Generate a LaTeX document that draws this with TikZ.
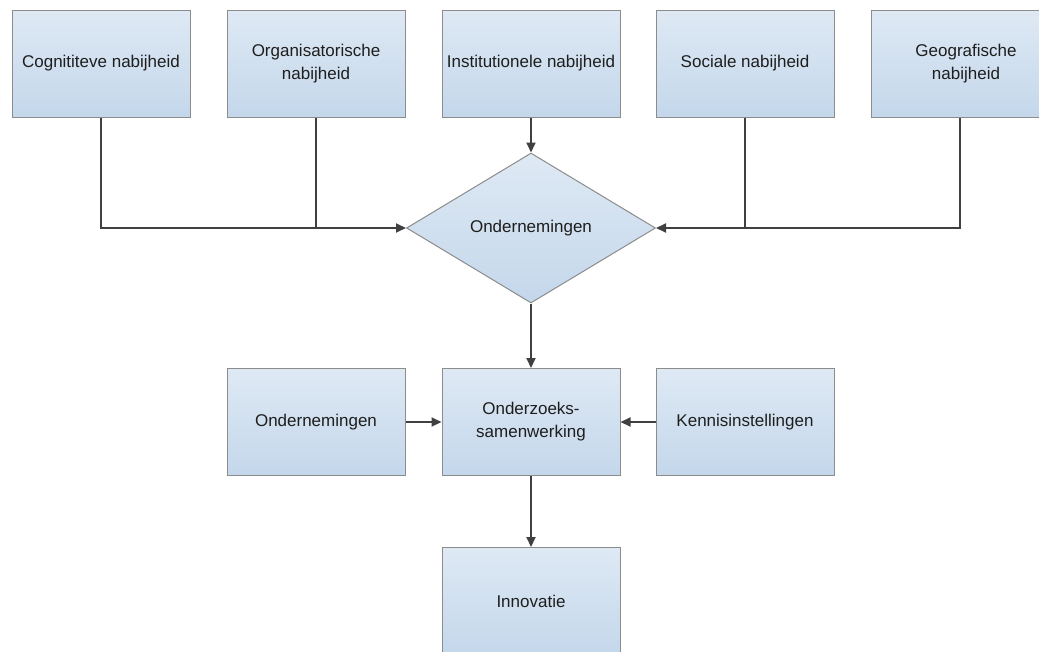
\documentclass[tikz,border=0pt]{standalone}
\usepackage{fontspec}
\setmainfont{Liberation Sans}
\usetikzlibrary{shapes.geometric,arrows.meta}
\definecolor{boxtop}{RGB}{222,233,244}
\definecolor{boxbot}{RGB}{196,215,235}
\definecolor{boxline}{RGB}{140,140,140}
\definecolor{conn}{RGB}{64,64,64}
\definecolor{txt}{RGB}{30,30,30}
\begin{document}
\begin{tikzpicture}[x=1pt,y=-1pt,
  box/.style={draw=boxline,line width=1pt,top color=boxtop,bottom color=boxbot,
    minimum width=178pt,minimum height=107pt,inner sep=0pt,align=center,
    text=txt,font=\fontsize{17}{23}\selectfont},
  dia/.style={diamond,draw=boxline,line width=1pt,top color=boxtop,bottom color=boxbot,
    minimum width=249pt,minimum height=150pt,inner sep=0pt,align=center,
    text=txt,font=\fontsize{17}{23}\selectfont},
  conline/.style={draw=conn,line width=2pt},
  arr/.style={conline,-{Triangle[length=10pt,width=9pt]}}
]
\useasboundingbox (0,0) rectangle (1039,651);
\begin{scope}
\clip (0,0) rectangle (1039,651);
\node[box] (c1) at (101,63.5) {Cognititeve nabijheid};
\node[box] (c2) at (316,63.5) {Organisatorische\\nabijheid};
\node[box] (c3) at (531,63.5) {Institutionele nabijheid};
\node[box] (c4) at (745,63.5) {Sociale nabijheid};
\node[box] (c5) at (960,63.5) {\hspace*{12pt}Geografische\\\hspace*{12pt}nabijheid};
\node[dia] (d) at (531,228) {Ondernemingen};
\node[box] (m1) at (316,422) {Ondernemingen};
\node[box] (m2) at (531,422) {Onderzoeks-\\samenwerking};
\node[box] (m3) at (745,422) {Kennisinstellingen};
\node[box] (inn) at (531,601) {Innovatie};
\end{scope}
\draw[arr] (c1.south) |- (d.west);
\draw[conline] (c2.south) -- (c2.south |- d.west);
\draw[arr] (c3.south) -- (d.north);
\draw[arr] (c5.south) |- (d.east);
\draw[conline] (c4.south) -- (c4.south |- d.east);
\draw[arr] (d.south) -- (m2.north);
\draw[arr] (m1.east) -- (m2.west);
\draw[arr] (m3.west) -- (m2.east);
\draw[arr] (m2.south) -- (inn.north);
\end{tikzpicture}
\end{document}
